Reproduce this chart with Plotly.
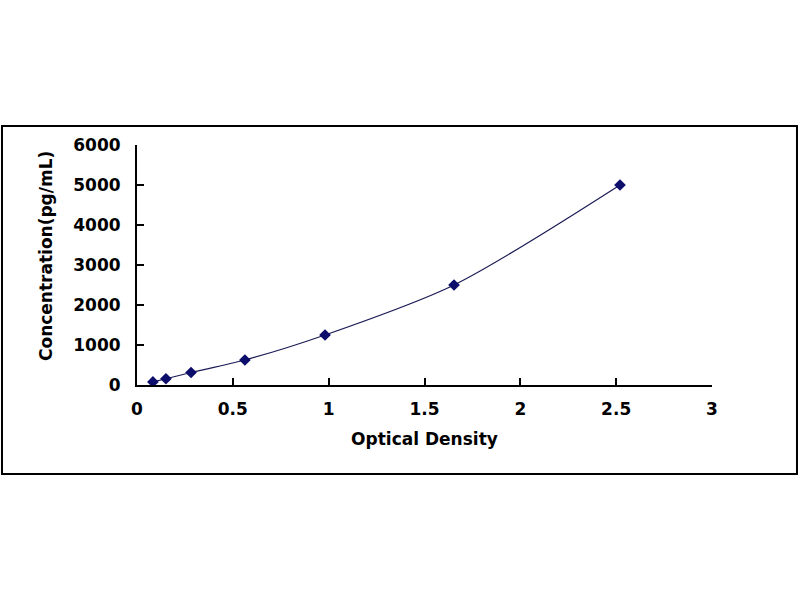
import plotly.graph_objects as go

# standard curve
optical_density = [0.083, 0.151, 0.282, 0.563, 0.981, 1.654, 2.52]
concentration = [78, 156, 312, 625, 1250, 2500, 5000]

x_ticks = [0, 0.5, 1, 1.5, 2, 2.5, 3]
x_tick_text = ["0", "0.5", "1", "1.5", "2", "2.5", "3"]
y_ticks = [0, 1000, 2000, 3000, 4000, 5000, 6000]

NAVY = "#0d0d6b"
FONT = "DejaVu Sans"

fig = go.Figure()
fig.add_trace(go.Scatter(
    x=optical_density,
    y=concentration,
    mode="lines+markers",
    line=dict(color="#1a1a55", width=1.2, shape="spline", smoothing=0.8),
    marker=dict(symbol="diamond", size=9, color=NAVY),
    showlegend=False,
))

fig.update_layout(
    width=800,
    height=600,
    paper_bgcolor="white",
    plot_bgcolor="white",
    margin=dict(l=137, r=88, t=145, b=215),
    font=dict(family=FONT, color="black", size=17),
    xaxis=dict(
        range=[0, 3],
        tickvals=x_ticks,
        ticktext=x_tick_text,
        showgrid=False,
        zeroline=False,
        showline=True,
        linecolor="black",
        linewidth=2,
        ticks="inside",
        ticklen=7,
        tickwidth=2,
        tickcolor="black",
        ticklabelstandoff=8,
        tickfont=dict(family=FONT, size=17, color="black", weight="bold"),
        title=dict(text="<b>Optical Density</b>", standoff=15,
                   font=dict(family=FONT, size=17, color="black")),
    ),
    yaxis=dict(
        range=[0, 6000],
        tickvals=y_ticks,
        showgrid=False,
        zeroline=False,
        showline=True,
        linecolor="black",
        linewidth=2,
        ticks="inside",
        ticklen=7,
        tickwidth=2,
        tickcolor="black",
        ticklabelstandoff=11,
        tickfont=dict(family=FONT, size=17, color="black", weight="bold"),
    ),
)

# y title placed by hand, it sits a little above the plot centre
fig.add_annotation(
    text="<b>Concentration(pg/mL)</b>",
    xref="paper", yref="paper",
    x=(46 - 137) / 575, y=(385 - 256) / 240,
    xanchor="center", yanchor="middle",
    textangle=-90, showarrow=False,
    font=dict(family=FONT, size=17, color="black"),
)

# outer frame around the whole chart
fig.add_shape(
    type="rect", xref="paper", yref="paper",
    x0=-0.2348, x1=1.1478, y0=-0.3708, y1=1.079,
    line=dict(color="black", width=2),
    fillcolor="rgba(0,0,0,0)",
    layer="below",
)

# page body has a default 8px margin; drop it so the figure sits at 0,0
fig.write_html(
    "out.html",
    config={"displayModeBar": False},
    post_script="document.body.style.margin='0';",
)
